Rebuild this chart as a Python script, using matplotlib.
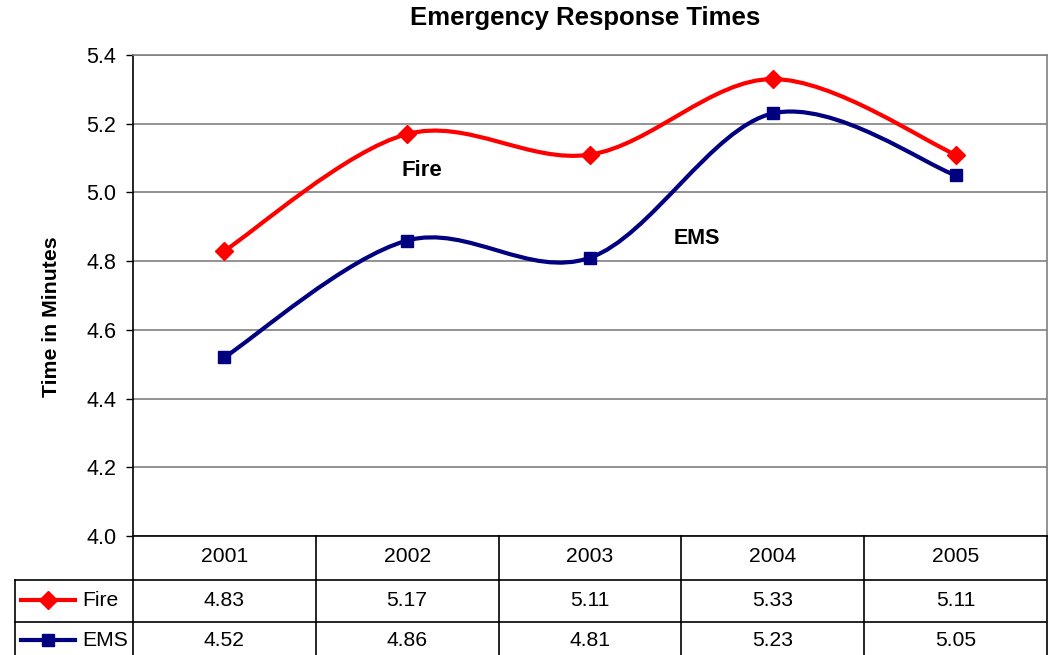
import numpy as np
import matplotlib.pyplot as plt
from matplotlib.path import Path
from matplotlib.patches import PathPatch
from matplotlib.lines import Line2D
import matplotlib.transforms as mtransforms

plt.rcParams['font.family'] = ['Liberation Sans', 'DejaVu Sans']

years = ['2001', '2002', '2003', '2004', '2005']
fire = [4.83, 5.17, 5.11, 5.33, 5.11]
ems = [4.52, 4.86, 4.81, 5.23, 5.05]
yticks = [4.0, 4.2, 4.4, 4.6, 4.8, 5.0, 5.2, 5.4]

RED = '#ff0000'
NAVY = '#000080'
GRID = '#808080'

W, H = 1049, 655
fig = plt.figure(figsize=(W / 100, H / 100), dpi=100)
ax = fig.add_axes([133 / W, 1 - 536 / H, 914 / W, 481 / H])


def smooth_path(xs, ys):
    # excel-like smoothed line: bezier segments through the data points
    pts = np.column_stack([xs, ys]).astype(float)
    n = len(pts)
    verts = [pts[0]]
    codes = [Path.MOVETO]
    for i in range(n - 1):
        p0 = pts[max(i - 1, 0)]
        p1 = pts[i]
        p2 = pts[i + 1]
        p3 = pts[min(i + 2, n - 1)]
        verts += [p1 + (p2 - p0) / 6, p2 - (p3 - p1) / 6, p2]
        codes += [Path.CURVE4] * 3
    return Path(verts, codes)


x = np.arange(len(years))
for vals, col, mk, ms in [(fire, RED, 'D', 9), (ems, NAVY, 's', 8.5)]:
    ax.add_patch(PathPatch(smooth_path(x, vals), facecolor='none', edgecolor=col,
                           lw=3, joinstyle='round', capstyle='round', zorder=3))
    ax.plot(x, vals, linestyle='none', marker=mk, ms=ms, color=col, zorder=4)

ax.set_xlim(-0.5, len(years) - 0.5)
ax.set_ylim(yticks[0], yticks[-1])
ax.set_yticks(yticks)
ax.set_yticklabels(['%.1f' % v for v in yticks], fontsize=15.5)
ax.set_xticks([])
ax.tick_params(axis='y', length=5, width=1, pad=7, color='black')
ax.yaxis.grid(True, color=GRID, lw=1.2)
ax.set_axisbelow(True)
for s in ['top', 'right']:
    ax.spines[s].set_color(GRID)
    ax.spines[s].set_linewidth(1.2)
for s in ['left', 'bottom']:
    ax.spines[s].set_color('black')
    ax.spines[s].set_linewidth(1.2)

ax.text(1.08, 5.065, 'Fire', fontsize=16, fontweight='bold', ha='center', va='center')
ax.text(2.585, 4.867, 'EMS', fontsize=15.5, fontweight='bold', ha='center', va='center')

fig.text(585 / W, 1 - 18 / H, 'Emergency Response Times', fontsize=18.5, fontweight='bold',
         ha='center', va='center')
fig.text(52 / W, 1 - 317 / H, 'Time in Minutes', fontsize=15.3, fontweight='bold',
         rotation=90, ha='center', va='center')

# data table under the axis
tr = mtransforms.blended_transform_factory(ax.transData, fig.transFigure)


def fy(py):
    return 1 - py / H


for i in range(len(years) + 1):
    fig.add_artist(Line2D([i - 0.5, i - 0.5], [fy(536), fy(660)], transform=tr,
                          color='black', lw=1.2))
for py in [580, 622]:
    fig.add_artist(Line2D([15 / W, 1046 / W], [fy(py), fy(py)], color='black', lw=1.2))
fig.add_artist(Line2D([15 / W, 15 / W], [fy(580), fy(660)], color='black', lw=1.2))

for i, yr in enumerate(years):
    fig.text(i, fy(557), yr, transform=tr, fontsize=15.2, ha='center', va='center')
    fig.text(i, fy(600), '%.2f' % fire[i], transform=tr, fontsize=15.2, ha='center', va='center')
    fig.text(i, fy(640), '%.2f' % ems[i], transform=tr, fontsize=15.2, ha='center', va='center')

for py, col, mk, ms, name in [(600, RED, 'D', 9, 'Fire'), (640, NAVY, 's', 8.5, 'EMS')]:
    fig.add_artist(Line2D([21 / W, 75 / W], [fy(py), fy(py)], color=col, lw=3))
    fig.add_artist(Line2D([48 / W], [fy(py)], color=col, marker=mk, ms=ms, linestyle='none'))
    fig.text(82 / W, fy(py), name, fontsize=15.2, ha='left', va='center')

fig.savefig('out.png', dpi=100)
